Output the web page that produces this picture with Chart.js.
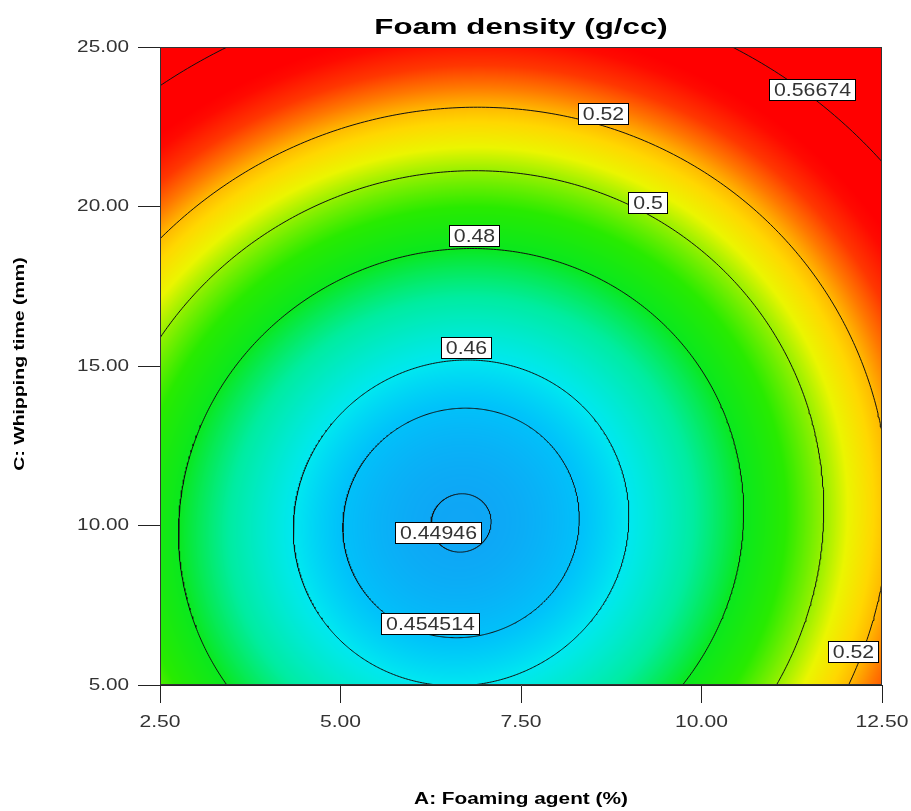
<!DOCTYPE html>
<html>
<head>
<meta charset="utf-8">
<script src="https://cdn.jsdelivr.net/npm/chart.js@4.4.0/dist/chart.umd.min.js"></script>
<style>
  html, body { margin: 0; padding: 0; background: #ffffff; }
  #wrap { width: 911px; height: 811px; }
</style>
</head>
<body>
<div id="wrap"><canvas id="chart" width="911" height="811"></canvas></div>
<script>
// ---- Data -----------------------------------------------------------------
const chartTitle = 'Foam density (g/cc)';
const xTitle = 'A: Foaming agent (%)';
const yTitle = 'C: Whipping time (mm)';

const xTicks = [2.5, 5.0, 7.5, 10.0, 12.5];
const yTicks = [5.0, 10.0, 15.0, 20.0, 25.0];

// Fitted response surface, actual factors:
// density = b0 + b1*A + b2*C + b3*A*C + b4*A^2 + b5*C^2
const modelTerms = ['Intercept', 'A', 'C', 'AC', 'A^2', 'C^2'];
const modelCoefs = [0.576742, -0.026241, -0.007960, -0.000070, 0.002020, 0.000418];

// Contour levels drawn on the surface
const contourLevels = [0.44946, 0.454514, 0.46, 0.48, 0.5, 0.52, 0.56674];

// Contour labels: level shown and where its tag sits (A, C)
const labelLevels = [0.56674, 0.52, 0.5, 0.48, 0.46, 0.44946, 0.454514, 0.52];
const labelA = [11.54, 8.64, 9.26, 6.86, 6.74, 6.36, 6.24, 12.10];
const labelC = [23.65, 22.90, 20.11, 19.08, 15.56, 9.76, 6.91, 6.03];

// Colour ramp (density -> RGB)
const rampValues  = [0.449, 0.455, 0.46, 0.47, 0.48, 0.49, 0.50, 0.507, 0.515, 0.52, 0.527, 0.535, 0.545, 0.55];
const rampColours = [
  [15, 165, 245], [0, 195, 250], [0, 232, 240], [0, 236, 160], [10, 232, 30], [40, 235, 0],
  [150, 240, 0], [235, 245, 0], [255, 215, 0], [255, 185, 0], [255, 120, 0], [255, 55, 0],
  [255, 10, 0], [255, 0, 0]
];

// ---- Model helpers ----------------------------------------------------------
function density(A, C) {
  const b = modelCoefs;
  return b[0] + b[1] * A + b[2] * C + b[3] * A * C + b[4] * A * A + b[5] * C * C;
}

// Stationary point of the quadratic surface
function surfaceMinimum() {
  const b = modelCoefs;
  // 2*b4*A + b3*C = -b1 ; b3*A + 2*b5*C = -b2
  const a11 = 2 * b[4], a12 = b[3], a21 = b[3], a22 = 2 * b[5];
  const det = a11 * a22 - a12 * a21;
  const A = (-b[1] * a22 + b[2] * a12) / det;
  const C = (-b[2] * a11 + b[1] * a21) / det;
  return { A, C, value: density(A, C) };
}

// Closed contour of the surface at a given level, traced around the minimum
function contourPoints(level) {
  const b = modelCoefs;
  const m = surfaceMinimum();
  const pts = [];
  const steps = 720;
  for (let k = 0; k <= steps; k++) {
    const t = (k / steps) * Math.PI * 2;
    const dx = Math.cos(t), dy = 2 * Math.sin(t);
    const q = b[4] * dx * dx + b[3] * dx * dy + b[5] * dy * dy;
    const r = Math.sqrt(Math.max(level - m.value, 0) / q);
    pts.push({ x: m.A + r * dx, y: m.C + r * dy });
  }
  return pts;
}

function colourFor(v) {
  if (v <= rampValues[0]) return rampColours[0];
  const n = rampValues.length;
  if (v >= rampValues[n - 1]) return rampColours[n - 1];
  for (let i = 1; i < n; i++) {
    if (v <= rampValues[i]) {
      const f = (v - rampValues[i - 1]) / (rampValues[i] - rampValues[i - 1]);
      const c0 = rampColours[i - 1], c1 = rampColours[i];
      return [c0[0] + (c1[0] - c0[0]) * f, c0[1] + (c1[1] - c0[1]) * f, c0[2] + (c1[2] - c0[2]) * f];
    }
  }
  return rampColours[n - 1];
}

// Text drawn with a horizontal stretch (wide plot lettering)
function wideText(ctx, txt, x, y, sx, align) {
  ctx.save();
  ctx.translate(x, y);
  ctx.scale(sx, 1);
  ctx.textAlign = align;
  ctx.fillText(txt, 0, 0);
  ctx.restore();
}

const SANS = '"Liberation Sans", Arial, sans-serif';

// ---- Plugins -----------------------------------------------------------------
const surfacePlugin = {
  id: 'surface',
  beforeDatasetsDraw(chart) {
    const { ctx, chartArea: a, scales: { x, y } } = chart;
    const w = Math.round(a.right - a.left), h = Math.round(a.bottom - a.top);
    const off = document.createElement('canvas');
    off.width = w; off.height = h;
    const octx = off.getContext('2d');
    const img = octx.createImageData(w, h);
    const xs = new Float64Array(w);
    for (let i = 0; i < w; i++) xs[i] = x.getValueForPixel(a.left + i + 0.5);
    for (let j = 0; j < h; j++) {
      const C = y.getValueForPixel(a.top + j + 0.5);
      for (let i = 0; i < w; i++) {
        const c = colourFor(density(xs[i], C));
        const p = (j * w + i) * 4;
        img.data[p] = c[0]; img.data[p + 1] = c[1]; img.data[p + 2] = c[2]; img.data[p + 3] = 255;
      }
    }
    octx.putImageData(img, 0, 0);
    ctx.save();
    ctx.drawImage(off, a.left, a.top, w, h);
    ctx.restore();
  }
};

const decorPlugin = {
  id: 'decor',
  afterDatasetsDraw(chart) {
    const { ctx, chartArea: a, scales: { x, y } } = chart;
    ctx.save();
    // frame
    ctx.strokeStyle = '#333333';
    ctx.lineWidth = 1;
    ctx.strokeRect(a.left + 0.5, a.top + 0.5, a.right - a.left - 1, a.bottom - a.top - 1);
    // contour tags
    const sx = 1.12;
    ctx.font = '19px ' + SANS;
    ctx.textBaseline = 'middle';
    for (let i = 0; i < labelLevels.length; i++) {
      const txt = String(labelLevels[i]);
      const px = x.getPixelForValue(labelA[i]);
      const py = y.getPixelForValue(labelC[i]);
      const tw = ctx.measureText(txt).width * sx;
      const bw = Math.round(tw + 10), bh = 22;
      const bx = Math.round(px - bw / 2), by = Math.round(py - bh / 2);
      ctx.fillStyle = '#ffffff';
      ctx.fillRect(bx, by, bw, bh);
      ctx.strokeStyle = '#000000';
      ctx.strokeRect(bx + 0.5, by + 0.5, bw - 1, bh - 1);
      ctx.fillStyle = '#333333';
      wideText(ctx, txt, bx + bw / 2, by + bh / 2 + 1, sx, 'center');
    }
    ctx.restore();
  },
  afterDraw(chart) {
    const { ctx, chartArea: a, scales: { x, y } } = chart;
    ctx.save();
    ctx.textBaseline = 'middle';
    // tick labels
    ctx.fillStyle = '#333333';
    ctx.font = '17px ' + SANS;
    x.ticks.forEach(t => wideText(ctx, t.value.toFixed(2), x.getPixelForValue(t.value), 722, 1.24, 'center'));
    y.ticks.forEach(t => wideText(ctx, t.value.toFixed(2), 129, y.getPixelForValue(t.value), 1.22, 'right'));
    // titles
    ctx.fillStyle = '#000000';
    ctx.font = 'bold 22px ' + SANS;
    wideText(ctx, chartTitle, (a.left + a.right) / 2, 28, 1.42, 'center');
    ctx.font = 'bold 16px ' + SANS;
    wideText(ctx, xTitle, (a.left + a.right) / 2, 800, 1.3, 'center');
    ctx.save();
    ctx.translate(20, (a.top + a.bottom) / 2 - 2);
    ctx.rotate(-Math.PI / 2);
    ctx.font = 'bold 15px ' + SANS;
    wideText(ctx, yTitle, 0, 0, 1.3, 'center');
    ctx.restore();
    ctx.restore();
  }
};

// ---- Chart -----------------------------------------------------------------
const datasets = contourLevels.map(level => ({
  label: String(level),
  data: contourPoints(level),
  showLine: true,
  borderColor: '#111111',
  borderWidth: 1,
  pointRadius: 0,
  tension: 0,
  fill: false
}));

new Chart(document.getElementById('chart'), {
  type: 'scatter',
  data: { datasets },
  options: {
    responsive: false,
    animation: false,
    events: [],
    layout: { padding: { top: 47, right: 29, left: 0, bottom: 0 } },
    plugins: { legend: { display: false }, tooltip: { enabled: false }, title: { display: false } },
    scales: {
      x: {
        type: 'linear', min: xTicks[0], max: xTicks[xTicks.length - 1],
        afterBuildTicks: s => { s.ticks = xTicks.map(v => ({ value: v })); },
        afterFit: s => { s.height = 126; },
        grid: { drawOnChartArea: false, drawTicks: true, tickLength: 18, color: '#222222' },
        border: { display: true, color: '#222222' },
        ticks: { display: false, callback: v => Number(v).toFixed(2) }
      },
      y: {
        type: 'linear', min: yTicks[0], max: yTicks[yTicks.length - 1],
        afterBuildTicks: s => { s.ticks = yTicks.map(v => ({ value: v })); },
        afterFit: s => { s.width = 160; },
        grid: { drawOnChartArea: false, drawTicks: true, tickLength: 22, color: '#222222' },
        border: { display: true, color: '#222222' },
        ticks: { display: false, callback: v => Number(v).toFixed(2) }
      }
    }
  },
  plugins: [surfacePlugin, decorPlugin]
});
</script>
</body>
</html>
